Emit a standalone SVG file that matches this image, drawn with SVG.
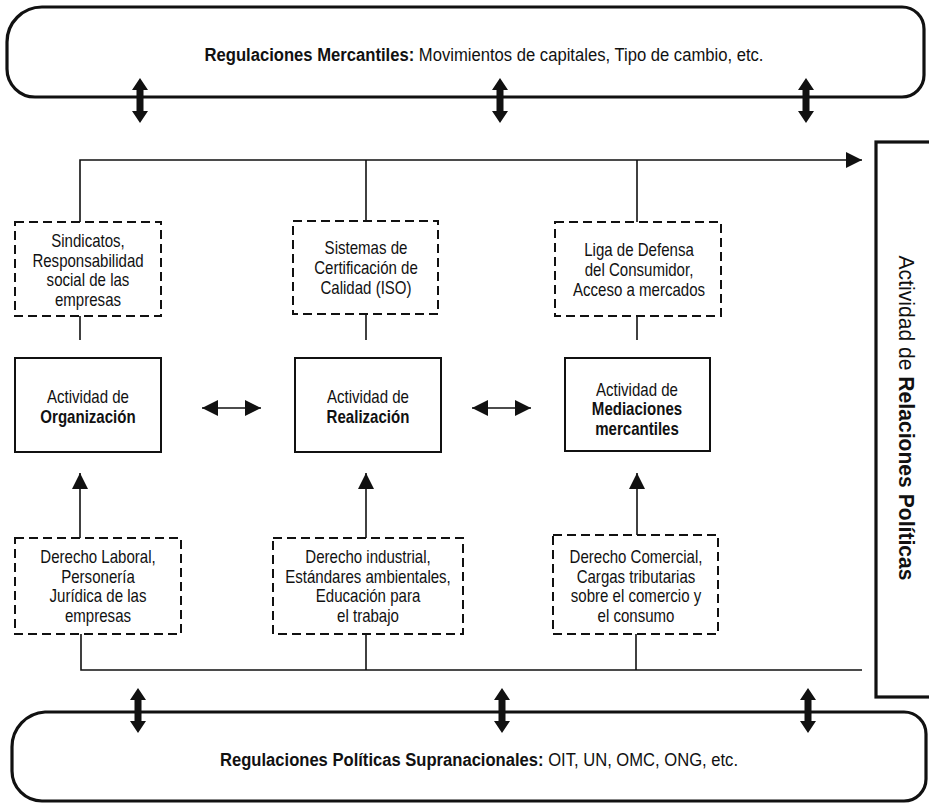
<svg xmlns="http://www.w3.org/2000/svg" width="929" height="804" viewBox="0 0 929 804">
<style>
text{font-family:"Liberation Sans",Arial,sans-serif;fill:#111;}
.bx{font-size:17.5px;text-anchor:middle;}
.b{font-weight:bold;}
.dash{fill:#fff;stroke:#111;stroke-width:2;stroke-dasharray:9 5;}
.solid{fill:#fff;stroke:#111;stroke-width:2;}
.ban{fill:#fff;stroke:#111;stroke-width:3.2;}
.ln{fill:none;stroke:#111;stroke-width:1.6;}
</style>
<defs>
<marker id="ah" viewBox="0 0 16 16" refX="16" refY="8" markerWidth="16" markerHeight="16" markerUnits="userSpaceOnUse" orient="auto-start-reverse">
<path d="M0,0 L16,8 L0,16 Z" fill="#111"/>
</marker>
<path id="dbl" d="M0,0 L8,12 L3.5,12 L3.5,33 L8,33 L0,45 L-8,33 L-3.5,33 L-3.5,12 L-8,12 Z" fill="#111"/>
</defs>

<g id="banner-top">
<path class="ban" d="M42,7 H902 A22,22 0 0 1 924,29 V75 A22,22 0 0 1 902,97 H35 A28,28 0 0 1 7,69 V42 A35,35 0 0 1 42,7 Z"/>
<text x="484" y="61" font-size="17.5" text-anchor="middle" textLength="559" lengthAdjust="spacingAndGlyphs"><tspan class="b">Regulaciones Mercantiles:</tspan> Movimientos de capitales, Tipo de cambio, etc.</text>
</g>

<g id="banner-bottom">
<path class="ban" d="M45,712 H904 A22,22 0 0 1 926,734 V779 A22,22 0 0 1 904,801 H42 A30,30 0 0 1 12,771 V747 A35,35 0 0 1 45,712 Z"/>
<text x="479" y="766" font-size="17.5" text-anchor="middle" textLength="518" lengthAdjust="spacingAndGlyphs"><tspan class="b">Regulaciones Políticas Supranacionales:</tspan> OIT, UN, OMC, ONG, etc.</text>
</g>

<g id="relaciones-politicas">
<rect x="876" y="142" width="80" height="555" fill="#fff" stroke="#111" stroke-width="3.2"/>
<text transform="translate(899,418) rotate(90)" font-size="22" text-anchor="middle" textLength="325" lengthAdjust="spacingAndGlyphs">Actividad de <tspan class="b">Relaciones Políticas</tspan></text>
</g>

<g id="connectors">
<path class="ln" d="M80,222 V160 H862" marker-end="url(#ah)"/>
<path class="ln" d="M366,160 V221"/>
<path class="ln" d="M637,160 V222"/>
<path class="ln" d="M80,316 V340"/>
<path class="ln" d="M366,314 V340"/>
<path class="ln" d="M637,316 V340"/>
<path class="ln" d="M80,538 V473" marker-end="url(#ah)"/>
<path class="ln" d="M366,538 V473" marker-end="url(#ah)"/>
<path class="ln" d="M637,535 V473" marker-end="url(#ah)"/>
<path class="ln" d="M202,408 H261" marker-start="url(#ah)" marker-end="url(#ah)"/>
<path class="ln" d="M472,408 H531" marker-start="url(#ah)" marker-end="url(#ah)"/>
<path class="ln" d="M81,634 V670 H862"/>
<path class="ln" d="M366,634 V670"/>
<path class="ln" d="M636,634 V670"/>
<use href="#dbl" x="140" y="78"/>
<use href="#dbl" x="500" y="78"/>
<use href="#dbl" x="806" y="78"/>
<use href="#dbl" x="138" y="688"/>
<use href="#dbl" x="502" y="688"/>
<use href="#dbl" x="808" y="688"/>
</g>

<g id="sindicatos">
<rect class="dash" x="15" y="222" width="146" height="94"/>
<g transform="translate(88,0) scale(0.86,1)"><text class="bx"><tspan x="0" y="247.5">Sindicatos,</tspan><tspan x="0" y="267">Responsabilidad</tspan><tspan x="0" y="286.5">social de las</tspan><tspan x="0" y="306">empresas</tspan></text></g>
</g>
<g id="iso">
<rect class="dash" x="293" y="221" width="145" height="93"/>
<g transform="translate(366,0) scale(0.86,1)"><text class="bx"><tspan x="0" y="254">Sistemas de</tspan><tspan x="0" y="274">Certificación de</tspan><tspan x="0" y="294">Calidad (ISO)</tspan></text></g>
</g>
<g id="liga">
<rect class="dash" x="555" y="222" width="166" height="94"/>
<g transform="translate(639,0) scale(0.86,1)"><text class="bx"><tspan x="0" y="256">Liga de Defensa</tspan><tspan x="0" y="276">del Consumidor,</tspan><tspan x="0" y="296">Acceso a mercados</tspan></text></g>
</g>

<g id="organizacion">
<rect class="solid" x="15" y="358" width="146" height="94"/>
<g transform="translate(88,0) scale(0.86,1)"><text class="bx"><tspan x="0" y="403">Actividad de</tspan><tspan x="0" y="423" class="b">Organización</tspan></text></g>
</g>
<g id="realizacion">
<rect class="solid" x="295" y="358" width="146" height="94"/>
<g transform="translate(368,0) scale(0.86,1)"><text class="bx"><tspan x="0" y="403">Actividad de</tspan><tspan x="0" y="423" class="b">Realización</tspan></text></g>
</g>
<g id="mediaciones">
<rect class="solid" x="565" y="358" width="145" height="93"/>
<g transform="translate(637,0) scale(0.86,1)"><text class="bx"><tspan x="0" y="396">Actividad de</tspan><tspan x="0" y="415.5" class="b">Mediaciones</tspan><tspan x="0" y="435" class="b">mercantiles</tspan></text></g>
</g>

<g id="laboral">
<rect class="dash" x="15" y="538" width="166" height="96"/>
<g transform="translate(98,0) scale(0.86,1)"><text class="bx"><tspan x="0" y="563">Derecho Laboral,</tspan><tspan x="0" y="583">Personería</tspan><tspan x="0" y="602">Jurídica de las</tspan><tspan x="0" y="622">empresas</tspan></text></g>
</g>
<g id="industrial">
<rect class="dash" x="273" y="538" width="190" height="96"/>
<g transform="translate(368,0) scale(0.86,1)"><text class="bx"><tspan x="0" y="563">Derecho industrial,</tspan><tspan x="0" y="583">Estándares ambientales,</tspan><tspan x="0" y="602">Educación para</tspan><tspan x="0" y="622">el trabajo</tspan></text></g>
</g>
<g id="comercial">
<rect class="dash" x="553" y="535" width="165" height="99"/>
<g transform="translate(636,0) scale(0.86,1)"><text class="bx"><tspan x="0" y="563">Derecho Comercial,</tspan><tspan x="0" y="583">Cargas tributarias</tspan><tspan x="0" y="602">sobre el comercio y</tspan><tspan x="0" y="622">el consumo</tspan></text></g>
</g>
</svg>
